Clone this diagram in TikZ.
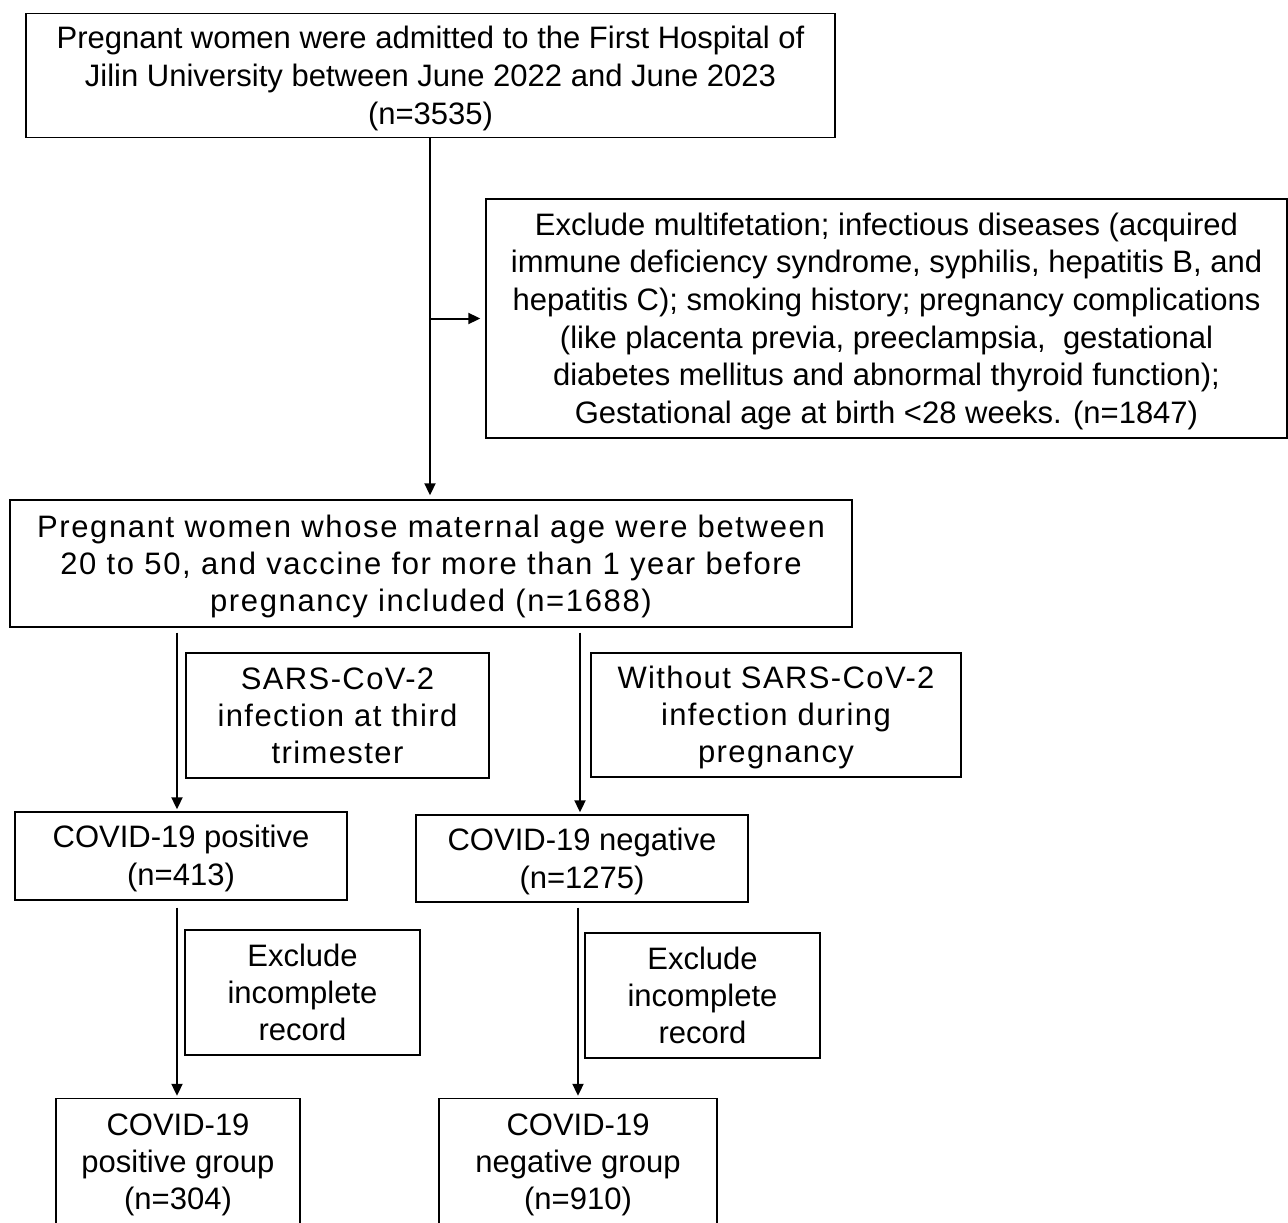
\documentclass[tikz,border=0pt]{standalone}
\usepackage{fontspec}
\setmainfont{Liberation Sans}
\newfontfamily\spaced[LetterSpace=4.5]{Liberation Sans}
\newfontfamily\spacedw[LetterSpace=5.3]{Liberation Sans}
\usetikzlibrary{arrows.meta}
\newcommand{\topstrutx}{\rule{0pt}{28pt}}
\newcommand{\botstrutx}{\rule[-6.6pt]{0pt}{6.6pt}}
\begin{document}
\begin{tikzpicture}[x=1pt,y=-1pt,
  box/.style={draw=black, line width=1.4pt, inner sep=0pt, align=center,
    font=\fontsize{31}{38}\selectfont},
  arr/.style={line width=2pt, -{Triangle[length=12pt,width=11pt]}}]
\useasboundingbox (0,0) rectangle (1288,1223);
\fill[white] (0,0) rectangle (1288,1223);
\node[box, minimum width=809, minimum height=124] (top) at (430.5,75.3)
  {\topstrutx Pregnant women were admitted to the First Hospital of\\Jilin University between June 2022 and June 2023\\(n=3535)\botstrutx};
\node[box, minimum width=801, minimum height=239, font=\fontsize{31}{37.6}\selectfont] (excl) at (886.5,318.5)
  {\topstrutx Exclude multifetation; infectious diseases (acquired\\immune deficiency syndrome, syphilis, hepatitis B, and\\hepatitis C); smoking history; pregnancy complications\\(like placenta previa, preeclampsia,\ \ gestational\\diabetes mellitus and abnormal thyroid function);\\Gestational age at birth <28 weeks. (n=1847)\botstrutx};
\node[box, minimum width=842, minimum height=127, font=\fontsize{31}{37}\spacedw] (mid) at (431,563.5)
  {\topstrutx Pregnant women whose maternal age were between\\20 to 50, and vaccine for more than 1 year before\\pregnancy included (n=1688)\botstrutx};
\node[box, minimum width=303, minimum height=125, font=\fontsize{31}{37}\spaced] (sars) at (337.5,715.5)
  {\topstrutx SARS-CoV-2\\infection at third\\trimester\botstrutx};
\node[box, minimum width=370, minimum height=124, font=\fontsize{31}{37}\spaced] (without) at (776,715)
  {\topstrutx Without SARS-CoV-2\\infection during\\pregnancy\botstrutx};
\node[box, minimum width=332, minimum height=88] (pos) at (181,856)
  {\topstrutx COVID-19 positive\\(n=413)\botstrutx};
\node[box, minimum width=332, minimum height=87] (neg) at (582,858.5)
  {\topstrutx COVID-19 negative\\(n=1275)\botstrutx};
\node[box, minimum width=235, minimum height=125, font=\fontsize{31}{37}\selectfont] (exL) at (302.5,992.5)
  {\topstrutx Exclude\\incomplete\\record\botstrutx};
\node[box, minimum width=235, minimum height=125, font=\fontsize{31}{37}\selectfont] (exR) at (702.5,995.5)
  {\topstrutx Exclude\\incomplete\\record\botstrutx};
\node[box, minimum width=244, minimum height=126, font=\fontsize{31}{37}\selectfont] (posg) at (178,1161.5)
  {\topstrutx COVID-19\\positive group\\(n=304)\botstrutx};
\node[box, minimum width=278, minimum height=126, font=\fontsize{31}{37}\selectfont] (negg) at (578,1161.5)
  {\topstrutx COVID-19\\negative group\\(n=910)\botstrutx};
\coordinate (lx) at (177,0);
\coordinate (rx) at (580,0);
\coordinate (rx2) at (578,0);
\coordinate (mx) at (430,0);
\draw[arr, shorten >=4pt] (top.south -| mx) -- (mid.north -| mx);
\draw[arr, shorten >=5pt] (excl.west -| mx) -- (excl.west);
\draw[arr, shorten <=5pt, shorten >=2pt] (mid.south -| lx) -- (pos.north -| lx);
\draw[arr, shorten <=5pt, shorten >=2pt] (mid.south -| rx) -- (neg.north -| rx);
\draw[arr, shorten <=7pt, shorten >=2pt] (pos.south -| lx) -- (posg.north -| lx);
\draw[arr, shorten <=5pt, shorten >=2pt] (neg.south -| rx2) -- (negg.north -| rx2);
\end{tikzpicture}
\end{document}
